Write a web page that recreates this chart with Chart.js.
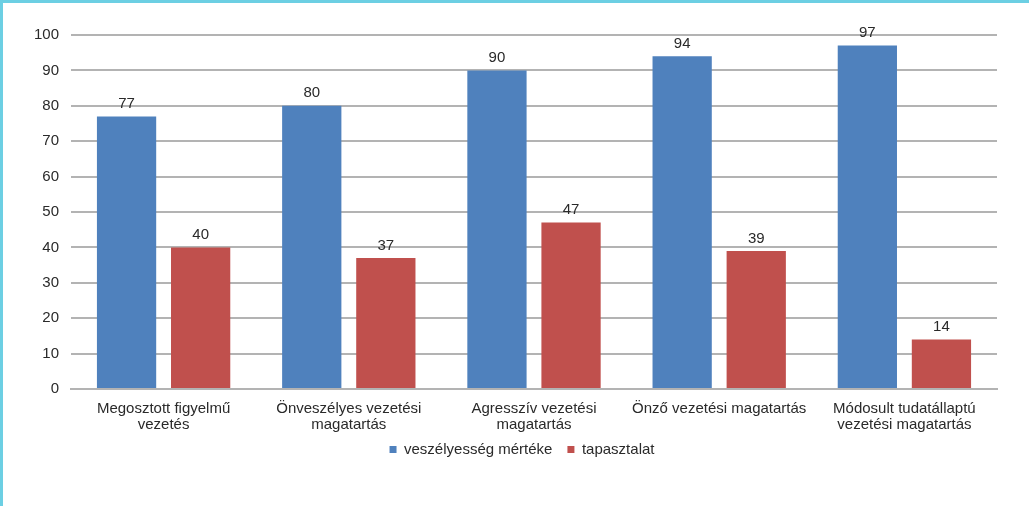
<!DOCTYPE html>
<html>
<head>
<meta charset="utf-8">
<script src="https://cdn.jsdelivr.net/npm/chart.js@4"></script>
<style>
    html, body { margin: 0; padding: 0; background: #fff; }
    .frame {
        position: relative;
        width: 1029px;
        height: 506px;
        box-sizing: border-box;
        border-top: 3px solid #6ccfe3;
        border-left: 3px solid #6ccfe3;
    }
    #chart { position: absolute; left: -3px; top: -3px; }
</style>
</head>
<body>
<div class="frame">
    <canvas id="chart" width="1029" height="506"></canvas>
</div>
<script>
const categories = [
    ['Megosztott figyelmű', 'vezetés'],
    ['Önveszélyes vezetési', 'magatartás'],
    ['Agresszív vezetési', 'magatartás'],
    'Önző vezetési magatartás',
    ['Módosult tudatállaptú', 'vezetési magatartás']
];
const veszelyesseg = [77, 80, 90, 94, 97];
const tapasztalat = [40, 37, 47, 39, 14];
const yTicks = [0, 10, 20, 30, 40, 50, 60, 70, 80, 90, 100];

const FONT = '"Liberation Sans", Arial, sans-serif';
const TEXT = '#2a2a2a';

// value labels above the bars
const barLabels = {
    id: 'barLabels',
    afterDatasetsDraw(chart) {
        const ctx = chart.ctx;
        ctx.save();
        ctx.font = '15px ' + FONT;
        ctx.fillStyle = TEXT;
        ctx.textAlign = 'center';
        ctx.textBaseline = 'bottom';
        chart.data.datasets.forEach((ds, i) => {
            chart.getDatasetMeta(i).data.forEach((bar, j) => {
                ctx.fillText(ds.data[j], bar.x, bar.y - 5);
            });
        });
        ctx.restore();
    }
};

// the scales were squeezed in afterFit so the legend sits where it should;
// give them their real boxes back before drawing, so labels are not clipped
const restoreScales = {
    id: 'restoreScales',
    afterLayout(chart) {
        const x = chart.scales.x, y = chart.scales.y;
        y.left = 0;
        y.width = y.right - y.left;
        x.bottom = x.bottom + 40;
        x.height = x.bottom - x.top;
    }
};

new Chart(document.getElementById('chart'), {
    type: 'bar',
    data: {
        labels: categories,
        datasets: [
            {
                label: 'veszélyesség mértéke',
                data: veszelyesseg,
                backgroundColor: '#4f81bd',
                barPercentage: 0.8,
                categoryPercentage: 0.8
            },
            {
                label: 'tapasztalat',
                data: tapasztalat,
                backgroundColor: '#c0504d',
                barPercentage: 0.8,
                categoryPercentage: 0.8
            }
        ]
    },
    options: {
        responsive: false,
        animation: false,
        layout: { padding: { left: 47, right: 32, top: 35, bottom: 39 } },
        scales: {
            x: {
                afterFit(scale) { scale.height -= 18; },
                grid: { display: false, drawTicks: false },
                border: { color: '#b3b3b3', width: 2 },
                ticks: {
                    padding: 12,
                    color: TEXT,
                    maxRotation: 0,
                    autoSkip: false,
                    font: { family: FONT, size: 15, lineHeight: 16 / 15 }
                }
            },
            y: {
                min: 0,
                max: 100,
                afterBuildTicks(scale) {
                    scale.ticks = yTicks.map(v => ({ value: v }));
                },
                afterFit(scale) { scale.width = 24; },
                grid: { color: '#b3b3b3', lineWidth: 2, drawTicks: false },
                border: { display: false },
                ticks: {
                    padding: 12,
                    color: TEXT,
                    font: { family: FONT, size: 15 }
                }
            }
        },
        plugins: {
            legend: {
                position: 'bottom',
                labels: {
                    boxWidth: 7,
                    boxHeight: 7,
                    padding: 15,
                    color: TEXT,
                    font: { family: FONT, size: 15 }
                }
            },
            tooltip: { enabled: false }
        }
    },
    plugins: [barLabels, restoreScales]
});
</script>
</body>
</html>
